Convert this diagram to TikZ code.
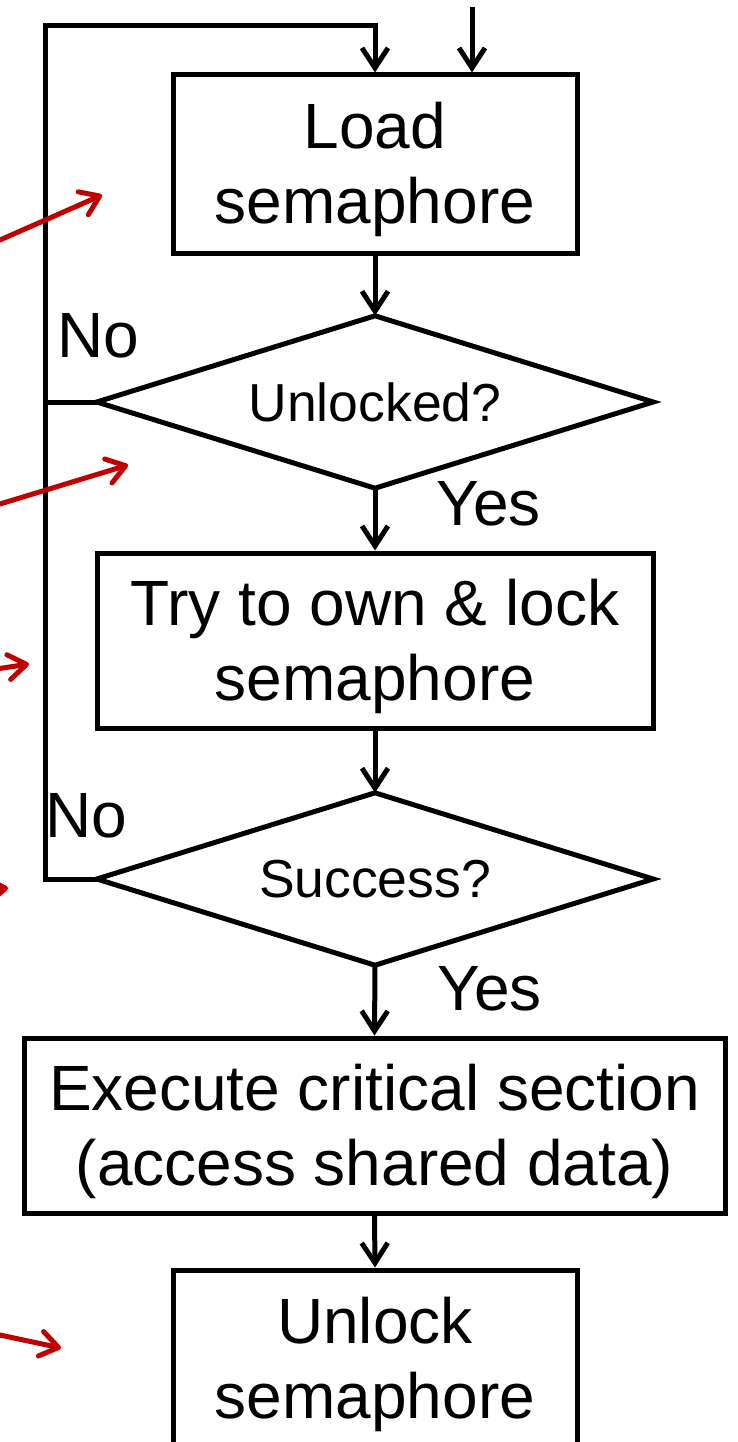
\documentclass[tikz,border=0pt]{standalone}
\usepackage{fontspec}
\setmainfont{Liberation Sans}
\usetikzlibrary{arrows.meta}
\definecolor{arrowred}{RGB}{192,0,0}
\newcommand{\bigf}{\fontsize{64}{75}\selectfont}
\newcommand{\midf}{\fontsize{53.5}{63}\selectfont}
\tikzset{
  stepbox/.style={draw, line width=5pt, rectangle, inner sep=0pt, align=center, font=\bigf, text depth=2pt},
  decision/.style={rectangle, inner sep=0pt, font=\midf, minimum width=556pt, minimum height=172pt},
  dshape/.style={line width=5pt, line join=miter},
  flow/.style={line width=5pt, -{Straight Barb[length=20pt,width=26pt,line width=5pt]}},
  plain/.style={line width=5pt},
  lbl/.style={font=\bigf, inner sep=0pt},
  redarrow/.style={draw=arrowred, line width=5pt, line cap=round, -{Straight Barb[length=18pt,width=25pt,line width=5pt,round]}}
}
\begin{document}
\begin{tikzpicture}[x=1pt, y=-1pt]
\useasboundingbox (0,0) rectangle (738,1442);
\clip (0,0) rectangle (738,1442);
\node[stepbox, minimum width=404pt, minimum height=178pt] (load) at (375,164) {Load\\semaphore};
\node[decision] (d1) at (375,402) {Unlocked?};
\node[stepbox, minimum width=556pt, minimum height=175pt] (try) at (375,640.5) {Try to own \& lock\\semaphore};
\node[decision] (d2) at (375,879) {Success?};
\node[stepbox, minimum width=701pt, minimum height=175pt] (exec) at (374.5,1125.5) {Execute critical section\\(access shared data)};
\node[stepbox, minimum width=404pt, minimum height=178pt] (unlock) at (375,1359) {Unlock\\semaphore};
\draw[dshape] (d1.north) -- (d1.east) -- (d1.south) -- (d1.west) -- cycle;
\draw[dshape] (d2.north) -- (d2.east) -- (d2.south) -- (d2.west) -- cycle;
\node[lbl, anchor=base west] (no1) at (57,357) {No};
\node[lbl, anchor=base west] (no2) at (45,837) {No};
\node[lbl, anchor=base west] (yes1) at (436,525) {Yes};
\node[lbl, anchor=base west] (yes2) at (437,1010) {Yes};
\coordinate (lc) at (45,26);
\coordinate (in) at (472,7);
\draw[flow] (in) -- (in |- load.north);
\draw[flow] (d2.west) -| (lc) -| (load.north);
\draw[plain] (d1.west) -- (d1.west -| lc);
\draw[flow] (load.south) -- (d1.north);
\draw[flow] (d1.south) -- (try.north);
\draw[flow] (try.south) -- (d2.north);
\draw[flow] (d2.south) -- (exec.north);
\draw[flow] (exec.south) -- (unlock.north);
\coordinate (r1a) at (0,240); \coordinate (r1b) at (102,195);
\coordinate (r2a) at (0,504); \coordinate (r2b) at (128,465);
\coordinate (r3a) at (-10,670); \coordinate (r3b) at (29,664);
\coordinate (r4a) at (-60,896); \coordinate (r4b) at (8,888);
\coordinate (r5a) at (0,1335); \coordinate (r5b) at (61,1348);
\draw[redarrow] (r1a) -- (r1b);
\draw[redarrow] (r2a) -- (r2b);
\draw[redarrow] (r3a) -- (r3b);
\draw[redarrow] (r4a) -- (r4b);
\draw[redarrow] (r5a) -- (r5b);
\end{tikzpicture}
\end{document}
